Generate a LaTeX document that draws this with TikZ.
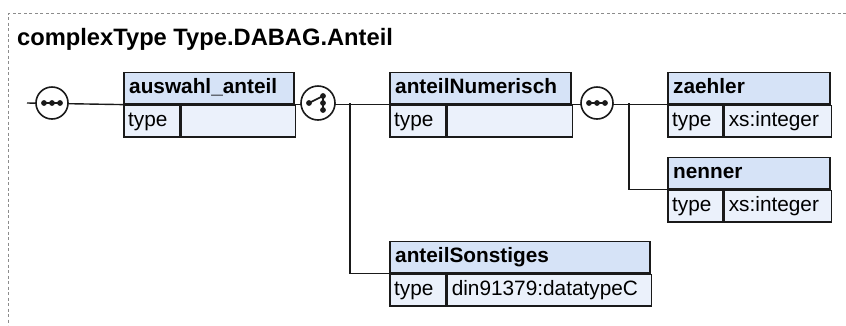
\documentclass[tikz,border=0pt]{standalone}
\usepackage{fontspec}
\setmainfont{Liberation Sans}
\definecolor{hdrfill}{HTML}{D6E3F7}
\definecolor{rowfill}{HTML}{EBF1FB}
\definecolor{boxline}{HTML}{1A1A1A}
\definecolor{framegray}{HTML}{8C8C8C}
\newcommand\boxfont{\fontsize{20.8}{24}\selectfont}
\newcommand\ttlfont{\fontsize{23.7}{28}\selectfont\bfseries}
% name, x, y(top), width, type width, value width, title, value
\newcommand\xsdbox[8]{%
  \node[hdrcell, minimum width=#4pt, anchor=north west] (#1h) at (#2,#3) {};
  \node[celltext, font=\boxfont\bfseries] (#1ht) at ([xshift=6pt,yshift=-22pt]#1h.north west) {#7};
  \node[rowcell, minimum width=#5pt, anchor=north west] (#1t) at (#1h.south west) {};
  \node[rowcell, minimum width=#6pt, anchor=north west] (#1v) at (#1t.north east) {};
  \node[celltext, font=\boxfont] (#1tt) at ([xshift=5pt,yshift=-22pt]#1t.north west) {type};
  \node[celltext, font=\boxfont] (#1vt) at ([xshift=5pt,yshift=-22pt]#1v.north west) {#8};
}
\begin{document}
\begin{tikzpicture}[x=1pt,y=-1pt,
  hdrcell/.style={draw=boxline, fill=hdrfill, line width=1.6pt, minimum height=31.5pt, inner sep=0pt, rectangle},
  rowcell/.style={draw=boxline, fill=rowfill, line width=1.6pt, minimum height=31.5pt, inner sep=0pt, rectangle},
  celltext/.style={anchor=base west, inner sep=0pt, text=black},
  conn/.style={draw=boxline, line width=1.4pt},
  comp/.style={circle, draw=boxline, fill=white, line width=1.6pt, minimum size=32pt, inner sep=0pt},
  dotline/.style={draw=boxline, line width=1.6pt},
  frameline/.style={draw=framegray, line width=1pt, dash pattern=on 3pt off 2.5pt}
]
\useasboundingbox (0,0) rectangle (846,325);
% frame
\coordinate (frTR) at (846,13);
\coordinate (frBL) at (8.5,325);
\draw[frameline] (frTR) -| (frBL);
% title
\node[anchor=base west, inner sep=0pt, font=\ttlfont] (title) at (17,45) {complexType Type.DABAG.Anteil};
% junctions
\coordinate (in) at (27,103);
\coordinate (j1) at (350,103);
\coordinate (j2) at (629,103);
% compositor circle positions
\coordinate (s1p) at (52,103);
\coordinate (c1p) at (318,103);
\coordinate (s2p) at (597,103);
% boxes
\xsdbox{b1}{123}{71.5}{170}{56}{114}{auswahl\_anteil}{}
\xsdbox{b2}{389}{71.5}{181}{56}{125}{anteilNumerisch}{}
\xsdbox{b3}{389}{240.5}{260}{56}{204}{anteilSonstiges}{din91379:datatypeC}
\xsdbox{b4}{667}{71.5}{162}{55}{107}{zaehler}{xs:integer}
\xsdbox{b5}{667}{156.5}{162}{55}{107}{nenner}{xs:integer}
% connectors (drawn under the circles)
\draw[conn] (in) -- (b1h.south west);
\draw[conn] (b1h.south east) -- (b2h.south west);
\draw[conn] (j1) |- (b3h.south west);
\draw[conn] (b2h.south east) -- (b4h.south west);
\draw[conn] (j2) |- (b5h.south west);
% compositor circles
\node[comp] (s1) at (s1p) {};
\node[comp, minimum size=34pt] (c1) at (c1p) {};
\node[comp] (s2) at (s2p) {};
% sequence icons
\foreach \s in {s1,s2}{
  \draw[dotline] ([xshift=-8pt]\s.center) -- ([xshift=8pt]\s.center);
  \fill[boxline] ([xshift=-8pt]\s.center) circle (2.9pt);
  \fill[boxline] (\s.center) circle (2.9pt);
  \fill[boxline] ([xshift=8pt]\s.center) circle (2.9pt);
}
% choice icon
\draw[dotline] ([xshift=-9pt]c1.center) -- ([xshift=5pt,yshift=7pt]c1.center) -- ([xshift=5pt,yshift=-7pt]c1.center);
\fill[boxline] ([xshift=-9pt]c1.center) circle (2.9pt);
\fill[boxline] ([xshift=5pt,yshift=7pt]c1.center) circle (2.9pt);
\fill[boxline] ([xshift=5pt]c1.center) circle (2.9pt);
\fill[boxline] ([xshift=5pt,yshift=-7pt]c1.center) circle (2.9pt);
\end{tikzpicture}
\end{document}
